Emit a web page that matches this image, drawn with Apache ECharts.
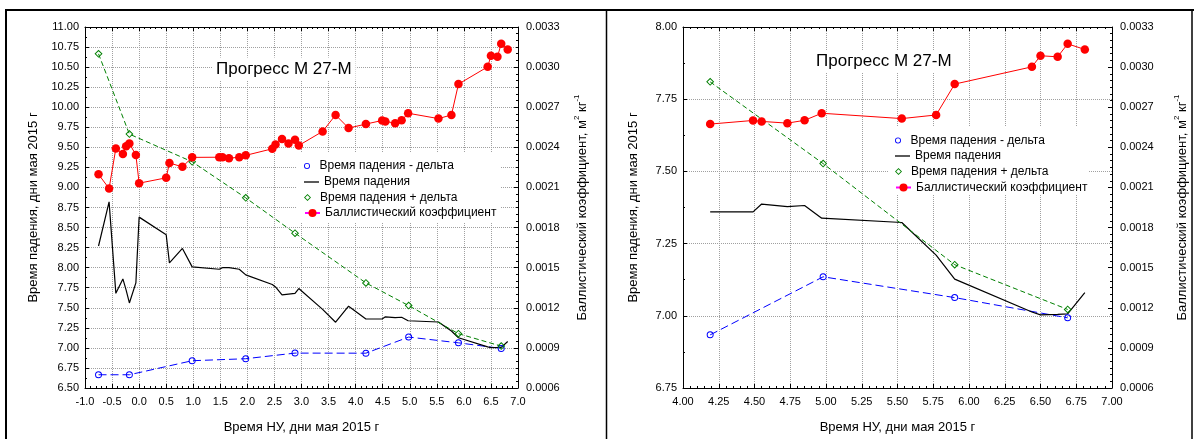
<!DOCTYPE html>
<html><head><meta charset="utf-8">
<script src="https://cdn.jsdelivr.net/npm/echarts/dist/echarts.min.js"></script>
<style>html,body{margin:0;padding:0;background:#fff}#c{width:1194px;height:439px}</style>
</head><body><div id="c"></div>
<script>
// ---- data ----
const timeNU = [-0.75,-0.555,-0.43,-0.30,-0.24,-0.18,-0.06,0.00,0.50,0.56,0.80,0.98,1.48,1.54,1.66,1.85,1.97,2.46,2.52,2.64,2.76,2.88,2.95,3.39,3.63,3.87,4.19,4.49,4.55,4.73,4.85,4.97,5.53,5.77,5.90,6.44,6.50,6.62,6.69,6.81];
const ballistic = [0.002198,0.002092,0.002392,0.002350,0.002408,0.002429,0.002343,0.002132,0.002172,0.002283,0.002254,0.002325,0.002326,0.002326,0.002319,0.002326,0.002340,0.002389,0.002421,0.002463,0.002428,0.002456,0.002414,0.002519,0.002642,0.002544,0.002574,0.002601,0.002594,0.002581,0.002602,0.002655,0.002615,0.002642,0.002873,0.003002,0.003085,0.003077,0.003174,0.003132];
const fallTime = [8.27,8.82,7.68,7.86,7.72,7.56,7.81,8.63,8.41,8.06,8.24,8.01,7.98,8.00,8.00,7.98,7.91,7.79,7.76,7.66,7.67,7.68,7.74,7.48,7.32,7.52,7.36,7.36,7.387,7.378,7.382,7.338,7.323,7.21,7.127,7.013,7.003,7.005,7.007,7.08];
const deltaTimeNU = [-0.75,-0.18,0.98,1.97,2.88,4.19,4.98,5.90,6.69];
const fallMinus = [6.665,6.665,6.84,6.865,6.935,6.934,7.135,7.063,6.993];
const fallPlus = [10.665,9.665,9.32,8.87,8.43,7.81,7.527,7.177,7.022];

const names = ['Время падения - дельта','Время падения','Время падения + дельта','Баллистический коэффициент'];
const chartTitle = 'Прогресс М 27-М';
const xName = 'Время НУ, дни мая 2015 г';
const yLeftName = 'Время падения, дни мая 2015 г';
const yRightName = 'Баллистический коэффициент, м{sup|2} кг{sup|-1}';

const F = '"Liberation Sans", Arial, sans-serif';
const zip = (xs, ys, from) => xs.map((x, i) => [x, ys[i]]).filter(p => p[0] >= from);

const panels = [
  {grid:{left:85, right:676, top:27, bottom:49}, xmin:-1, xmax:7, xint:0.5, xdec:1, ymin:6.5, ymax:11, from:-10,
   yNameGap:45, y2NameGap:55, title:{left:212, top:57.5}, legLeft:304, legTops:[160,176,191.5,207], box:[296,153,204,69]},
  {grid:{left:683, right:82, top:27, bottom:50}, xmin:4, xmax:7, xint:0.25, xdec:2, ymin:6.75, ymax:8, from:4,
   yNameGap:43, y2NameGap:61, title:{left:812, top:50}, legLeft:895, legTops:[134.5,150,165.5,181.5], box:[888,127,201,68]}
];

// thin open ring / open diamond shapes (used for markers and legend icons), a short line
const ringIcon = 'path://M3,0A3,3,0,1,1,2.99,0Z M3,0.85A2.15,2.15,0,1,0,3.01,0.85Z';
const diamondIcon = 'path://M3.5,0L7,3.5L3.5,7L0,3.5Z M3.5,1.2L1.2,3.5L3.5,5.8L5.8,3.5Z';
const lineIcon = 'path://M0,0H15V1.3H0Z';

const xAxis = [], yAxis = [], grid = [], series = [], legend = [], title = [], graphic = [];
const axisLine = {show:true, onZero:false, lineStyle:{color:'#000', width:1}};
const labelStyle = {color:'#000', fontSize:11, fontFamily:F};
panels.forEach((p, gi) => {
  grid.push(p.grid);
  const xBase = {type:'value', gridIndex:gi, min:p.xmin, max:p.xmax, interval:p.xint, axisLine,
    axisTick:{show:true, inside:true, length:4, lineStyle:{color:'#000'}},
    minorTick:{show:true, splitNumber:5, length:2, lineStyle:{color:'#000'}}};
  xAxis.push(Object.assign({}, xBase, {position:'bottom',
    axisLabel:{...labelStyle, margin:8, formatter:v => v.toFixed(p.xdec)},
    splitLine:{show:true, lineStyle:{color:'#a0a0a0', type:'dotted', width:1}},
    name:xName, nameLocation:'middle', nameGap:33, nameTextStyle:{color:'#000', fontSize:13, fontFamily:F}}));
  xAxis.push(Object.assign({}, xBase, {position:'top', axisLabel:{show:false}, splitLine:{show:false}}));
  yAxis.push({type:'value', gridIndex:gi, position:'left', min:p.ymin, max:p.ymax, interval:0.25, axisLine,
    axisTick:{show:true, inside:true, length:4, lineStyle:{color:'#000'}},
    minorTick:{show:true, splitNumber:2, length:2, lineStyle:{color:'#000'}},
    axisLabel:{...labelStyle, margin:6, formatter:v => v.toFixed(2)},
    splitLine:{show:true, lineStyle:{color:'#a0a0a0', type:'dotted', width:1}},
    name:yLeftName, nameLocation:'middle', nameRotate:90, nameGap:p.yNameGap,
    nameTextStyle:{color:'#000', fontSize:13, fontFamily:F}});
  yAxis.push({type:'value', gridIndex:gi, position:'right', min:0.0006, max:0.0033, interval:0.0003, axisLine,
    axisTick:{show:true, inside:true, length:4, lineStyle:{color:'#000'}},
    minorTick:{show:true, splitNumber:6, length:2, lineStyle:{color:'#000'}},
    axisLabel:{...labelStyle, margin:8, formatter:v => v.toFixed(4)},
    splitLine:{show:false},
    name:yRightName, nameLocation:'middle', nameRotate:90, nameGap:p.y2NameGap,
    nameTextStyle:{color:'#000', fontSize:13, fontFamily:F, rich:{sup:{fontSize:8, fontFamily:F, color:'#000', padding:[0,0,10,0]}}}});
  const xi = gi*2, yl = gi*2, yr = gi*2+1;
  series.push({name:names[0], type:'line', xAxisIndex:xi, yAxisIndex:yl, data:zip(deltaTimeNU, fallMinus, p.from),
    symbol:ringIcon, symbolSize:7, symbolKeepAspect:true, color:'#0000ff',
    lineStyle:{color:'#0000ff', width:1, type:[8,4]}, z:3});
  series.push({name:names[1], type:'line', xAxisIndex:xi, yAxisIndex:yl, data:zip(timeNU, fallTime, p.from),
    symbol:'none', color:'#000', lineStyle:{color:'#000', width:1.2}, z:3});
  series.push({name:names[2], type:'line', xAxisIndex:xi, yAxisIndex:yl, data:zip(deltaTimeNU, fallPlus, p.from),
    symbol:diamondIcon, symbolSize:8, symbolKeepAspect:true, color:'#008000',
    lineStyle:{color:'#008000', width:1, type:[5,3]}, z:3});
  series.push({name:names[3], type:'line', xAxisIndex:xi, yAxisIndex:yr, data:zip(timeNU, ballistic, p.from),
    symbol:'circle', symbolSize:8.5, color:'#ff0000', lineStyle:{color:'#ff0000', width:1}, z:4});

  const items = [
    {h:6, item:{name:names[0], icon:ringIcon}},
    {h:10, item:{name:names[1], icon:lineIcon}},
    {h:7, item:{name:names[2], icon:diamondIcon}},
    {h:10, item:{name:names[3], icon:'inherit', lineStyle:{color:'#ff00ff'}}}
  ];
  items.forEach((it, k) => legend.push({left:p.legLeft, top:p.legTops[k], orient:'vertical', padding:0,
    itemWidth:15, itemHeight:it.h, itemGap:0, selectedMode:false, z:6,
    textStyle:{fontSize:12, color:'#000', fontFamily:F}, data:[it.item]}));
  graphic.push({type:'rect', z:1, shape:{x:p.box[0], y:p.box[1], width:p.box[2], height:p.box[3]}, style:{fill:'#fff'}});
  title.push({text:chartTitle, left:p.title.left, top:p.title.top, padding:[3,4], backgroundColor:'#fff',
    textStyle:{fontSize:17, fontWeight:'normal', color:'#000', fontFamily:F}});
});
// outer frame of the figure table
graphic.push({type:'line', z:10, shape:{x1:5, y1:10, x2:1194, y2:10}, style:{stroke:'#000', lineWidth:2}});
graphic.push({type:'line', z:10, shape:{x1:6, y1:10, x2:6, y2:439}, style:{stroke:'#000', lineWidth:2}});
graphic.push({type:'line', z:10, shape:{x1:606.5, y1:10, x2:606.5, y2:439}, style:{stroke:'#000', lineWidth:1.5}});
graphic.push({type:'line', z:10, shape:{x1:1192, y1:10, x2:1192, y2:439}, style:{stroke:'#000', lineWidth:1.5}});

const chart = echarts.init(document.getElementById('c'), null, {renderer:'canvas'});
chart.setOption({backgroundColor:'#fff', animation:false, title, grid, xAxis, yAxis, series, legend, graphic});
</script></body></html>
